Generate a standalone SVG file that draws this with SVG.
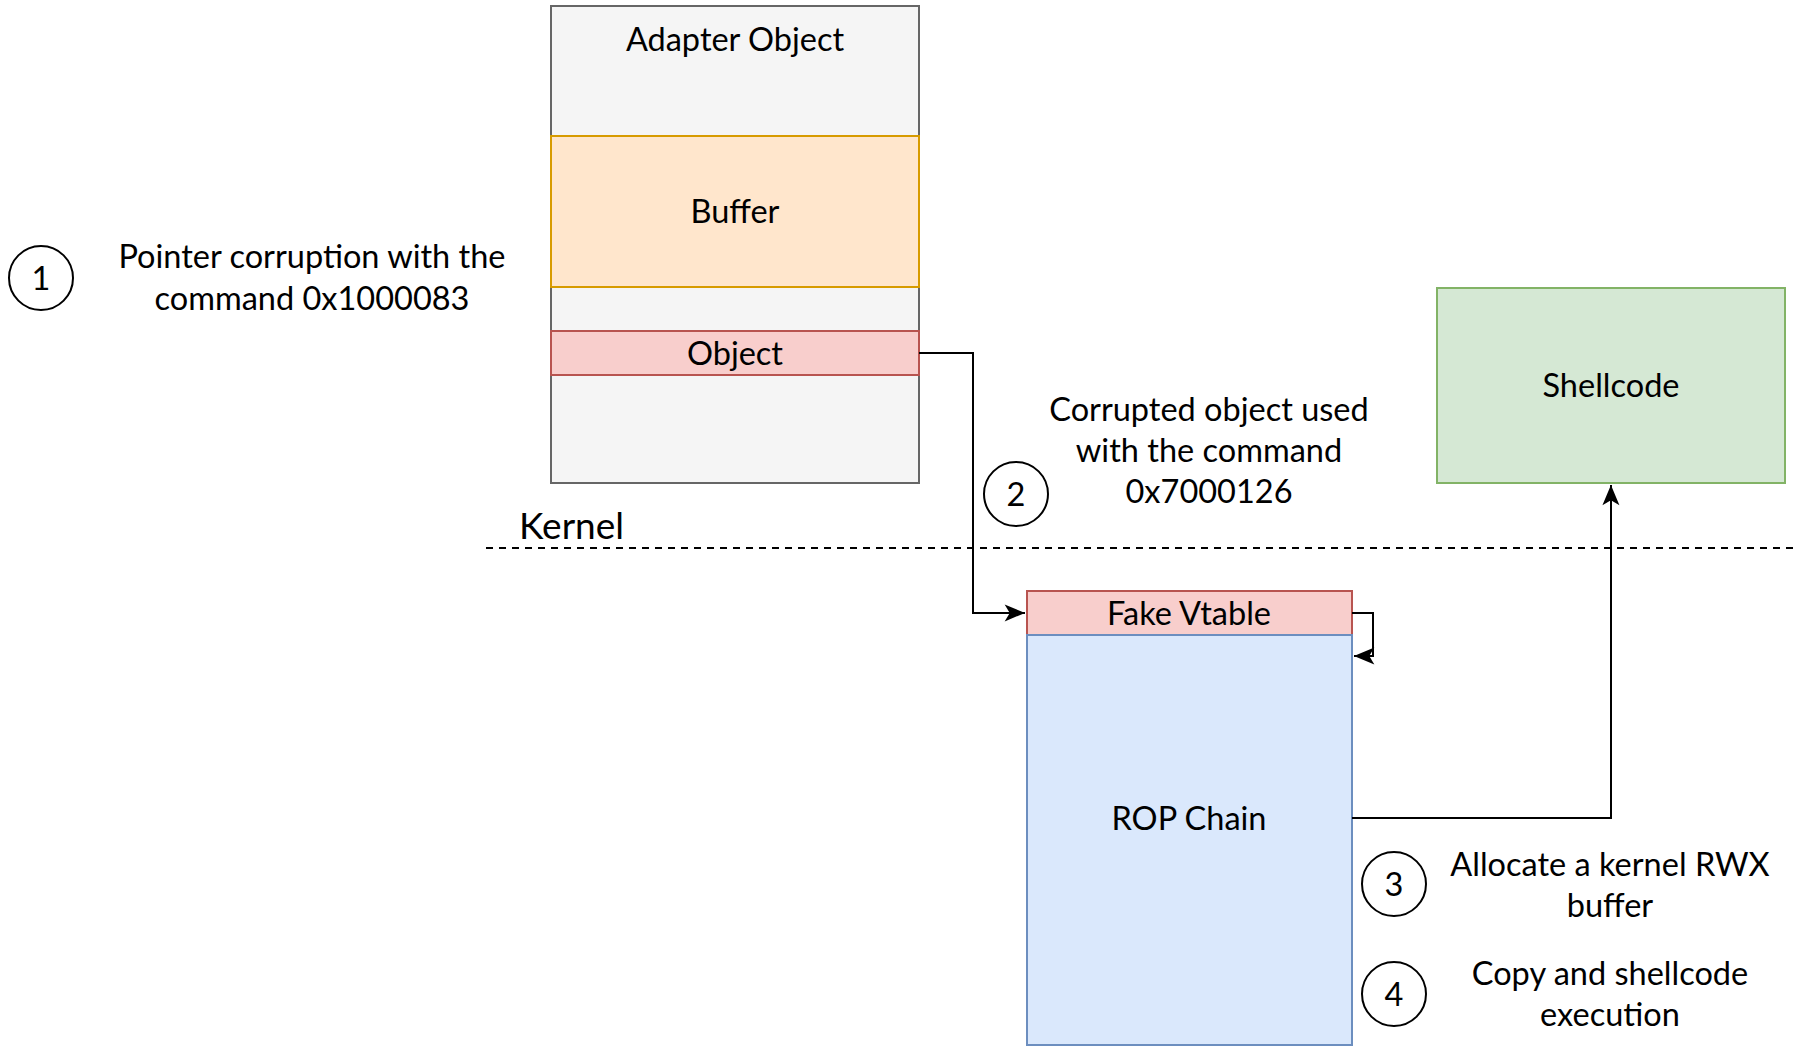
<svg xmlns="http://www.w3.org/2000/svg" width="1795" height="1051" viewBox="0 0 1795 1051">
<style>
text{font-family:Lato,"Noto Sans","Liberation Sans",sans-serif;font-size:32.5px;fill:#000;text-anchor:middle}
.box{stroke-width:2}
.grey{fill:#f5f5f5;stroke:#666666}
.orange{fill:#ffe6cc;stroke:#d79b00}
.red{fill:#f8cecc;stroke:#b85450}
.blue{fill:#dae8fc;stroke:#6c8ebf}
.green{fill:#d5e8d4;stroke:#82b366}
.circ{fill:#fff;stroke:#000;stroke-width:2}
.edge{fill:none;stroke:#000;stroke-width:2}
</style>
<defs>
<marker id="arr" markerWidth="12" markerHeight="10" viewBox="0 0 12 10" refX="11" refY="5" orient="auto" markerUnits="userSpaceOnUse" overflow="visible">
<path d="M0,0 L12,5 L0,10 L3,5 Z" transform="scale(1.7) translate(-5.5,-2.1)" fill="#000"/>
</marker>
</defs>
<rect width="1795" height="1051" fill="#fff"/>
<g id="adapter">
<rect class="box grey" x="551" y="6" width="368" height="477"/>
<text x="735" y="51">Adapter Object</text>
</g>
<g id="buffer">
<rect class="box orange" x="551" y="136" width="368" height="151"/>
<text x="735" y="223">Buffer</text>
</g>
<g id="object">
<rect class="box red" x="551" y="331" width="368" height="44"/>
<text x="735" y="365">Object</text>
</g>
<g id="kernel">
<line x1="486" y1="548" x2="1795" y2="548" stroke="#000" stroke-width="1.8" stroke-dasharray="7,6"/>
<text x="519" y="539" style="text-anchor:start;font-size:37px">Kernel</text>
</g>
<g id="fakevtable">
<rect class="box red" x="1027" y="591" width="325" height="44"/>
<text x="1189" y="625">Fake Vtable</text>
</g>
<g id="rop">
<rect class="box blue" x="1027" y="635" width="325" height="410"/>
<text x="1189" y="830">ROP Chain</text>
</g>
<g id="shellcode">
<rect class="box green" x="1437" y="288" width="348" height="195"/>
<text x="1611" y="397">Shellcode</text>
</g>
<g id="step1">
<circle class="circ" cx="41" cy="278" r="32"/>
<text x="41" y="290">1</text>
<text x="312" y="268">Pointer corruption with the</text>
<text x="312" y="310">command 0x1000083</text>
</g>
<g id="step2">
<circle class="circ" cx="1016" cy="494" r="32"/>
<text x="1016" y="506">2</text>
<text x="1209" y="421">Corrupted object used</text>
<text x="1209" y="462">with the command</text>
<text x="1209" y="503">0x7000126</text>
</g>
<g id="step3">
<circle class="circ" cx="1394" cy="884" r="32"/>
<text x="1394" y="896">3</text>
<text x="1610" y="876">Allocate a kernel RWX</text>
<text x="1610" y="917">buffer</text>
</g>
<g id="step4">
<circle class="circ" cx="1394" cy="994" r="32"/>
<text x="1394" y="1006">4</text>
<text x="1610" y="985">Copy and shellcode</text>
<text x="1610" y="1026">execution</text>
</g>
<g id="connectors">
<path class="edge" d="M919,353 H973 V613 H1025" marker-end="url(#arr)"/>
<path class="edge" d="M1352,613 H1373 V656 H1354" marker-end="url(#arr)"/>
<path class="edge" d="M1352,818 H1611 V485" marker-end="url(#arr)"/>
</g>
</svg>
